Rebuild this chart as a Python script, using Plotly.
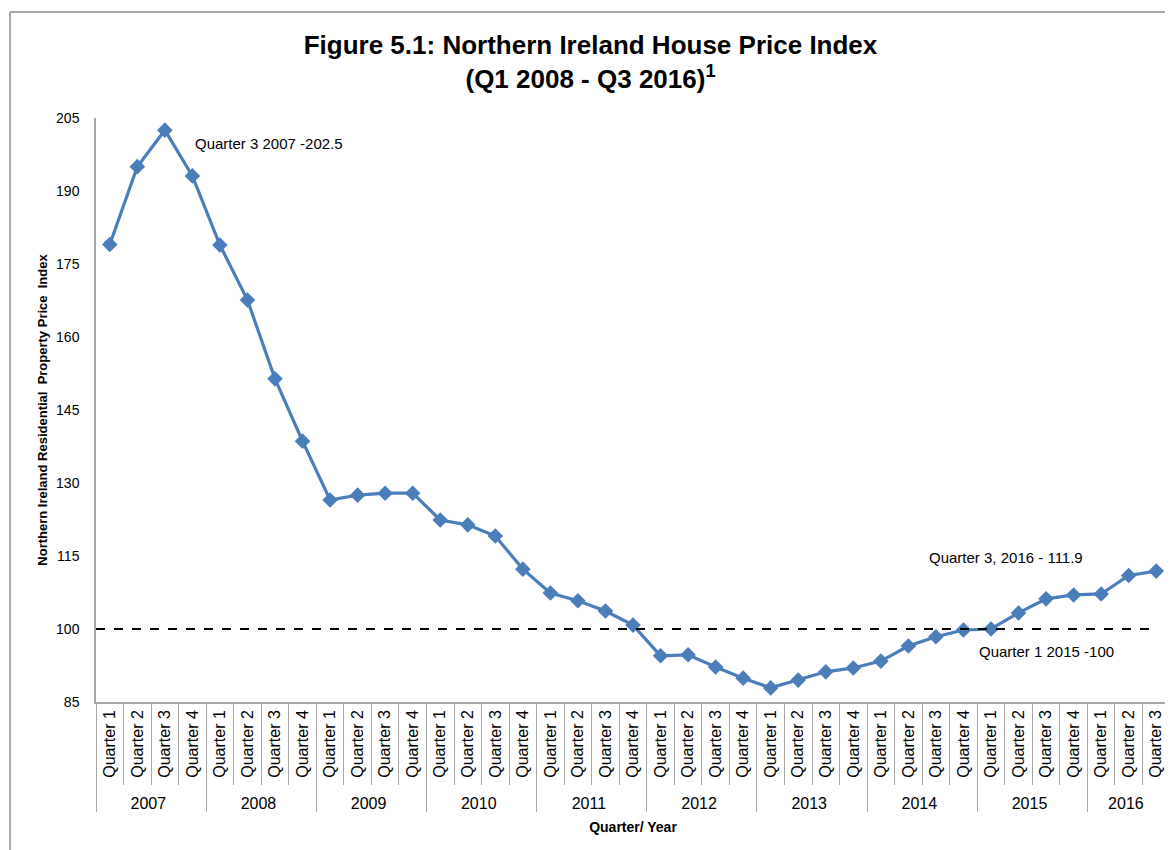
import plotly.graph_objects as go

years = ["2007"] * 4 + ["2008"] * 4 + ["2009"] * 4 + ["2010"] * 4 + ["2011"] * 4 + \
        ["2012"] * 4 + ["2013"] * 4 + ["2014"] * 4 + ["2015"] * 4 + ["2016"] * 3
quarters = (["Quarter 1", "Quarter 2", "Quarter 3", "Quarter 4"] * 10)[:39]
index_values = [179.0, 195.0, 202.5, 193.1,
                178.9, 167.6, 151.4, 138.6,
                126.5, 127.5, 127.9, 127.9,
                122.4, 121.4, 119.1, 112.3,
                107.4, 105.8, 103.7, 100.8,
                94.5, 94.7, 92.2, 89.9,
                87.9, 89.5, 91.2, 92.0,
                93.4, 96.5, 98.4, 99.8,
                100.0, 103.3, 106.2, 107.0,
                107.2, 111.0, 111.9]
base_level = 100
y_ticks = [85, 100, 115, 130, 145, 160, 175, 190, 205]

FONT = "Liberation Sans, Arial, sans-serif"
BLUE = "#4a7ebb"
GRID = "#a6a6a6"

fig = go.Figure()
fig.add_trace(go.Scatter(
    x=[years, quarters], y=index_values, mode="lines+markers",
    line=dict(color=BLUE, width=3.2),
    marker=dict(symbol="diamond", size=12, color=BLUE),
    showlegend=False, hoverinfo="y"))

fig.add_shape(type="line", xref="paper", yref="y", x0=0, x1=0.987,
              y0=base_level, y1=base_level,
              line=dict(color="black", width=2, dash="dash"))

# outer chart border (partly cut off)
fig.add_shape(type="line", xref="paper", yref="paper", x0=-0.0801, x1=1.1,
              y0=1.1815, y1=1.1815, line=dict(color="#8c8c8c", width=1.5))
fig.add_shape(type="line", xref="paper", yref="paper", x0=-0.0801, x1=-0.0801,
              y0=1.1815, y1=-0.3, line=dict(color="#8c8c8c", width=1.5))

fig.add_annotation(x=0.09, y=202.5, xref="paper", yref="y", text="Quarter 3 2007 -202.5",
                   showarrow=False, xanchor="left", yanchor="middle", yshift=-13,
                   font=dict(family=FONT, size=15, color="black"))
fig.add_annotation(x=0.774, y=114.7, xref="paper", yref="y", text="Quarter 3, 2016 - 111.9",
                   showarrow=False, xanchor="left", yanchor="middle",
                   font=dict(family=FONT, size=15, color="black"))
fig.add_annotation(x=0.820, y=95.3, xref="paper", yref="y", text="Quarter 1 2015 -100",
                   showarrow=False, xanchor="left", yanchor="middle",
                   font=dict(family=FONT, size=15, color="black"))

fig.update_layout(
    width=1165, height=842,
    margin=dict(l=88, r=3, t=110, b=148),
    paper_bgcolor="white", plot_bgcolor="white",
    title=dict(text="<b>Figure 5.1: Northern Ireland House Price Index<br>(Q1 2008 - Q3 2016)<sup>1</sup></b>",
               x=0.5, xanchor="center", y=0.945, yanchor="top",
               font=dict(family=FONT, size=26, color="black")),
    font=dict(family=FONT, color="black"),
)
fig.update_xaxes(
    type="multicategory", tickangle=-90, tickson="boundaries",
    range=[-0.5, 38.5], autorange=False, automargin=False,
    ticks="outside", ticklen=81, tickcolor=GRID,
    showdividers=True, dividercolor=GRID, dividerwidth=1,
    showline=True, linecolor=GRID, linewidth=1.5,
    showgrid=False, tickfont=dict(family=FONT, size=16, color="black"),
    title=dict(text="<b>Quarter/ Year</b>", font=dict(family=FONT, size=14, color="black"), standoff=12),
)
fig.update_yaxes(
    range=[85, 205], tickvals=y_ticks, showgrid=False, zeroline=False,
    showline=True, linecolor=GRID, linewidth=1.5, ticks="",
    tickfont=dict(family=FONT, size=14, color="black"), ticklabelstandoff=12,
    title=dict(text="<b>Northern Ireland Residential  Property Price  Index</b>",
               font=dict(family=FONT, size=13, color="black"), standoff=6),
)

fig.write_html("out.html")
